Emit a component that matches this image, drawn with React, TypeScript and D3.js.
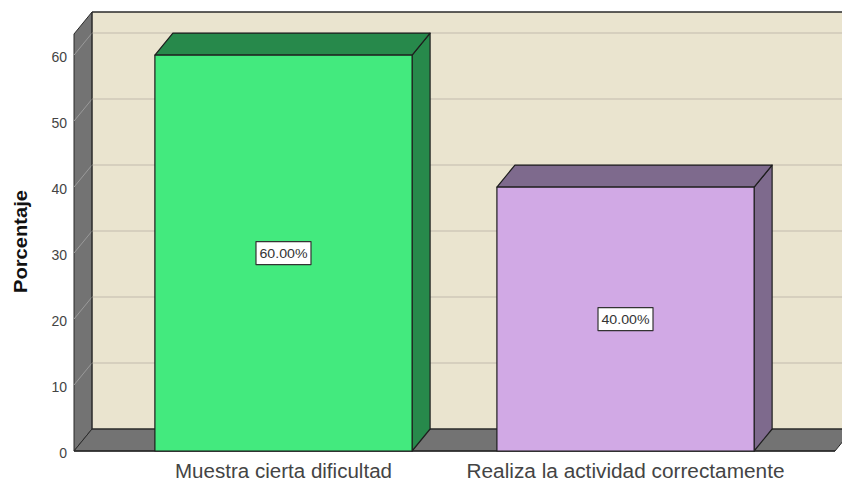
import React from "react";
import * as d3 from "d3";

const categories = ["Muestra cierta dificultad", "Realiza la actividad correctamente"];
const percentages = [60, 40];
const valueLabels = ["60.00%", "40.00%"];
const yTicks = [0, 10, 20, 30, 40, 50, 60];
const frontColors = ["#43EA7E", "#D1A9E5"];
const sideColors = ["#27894B", "#7E6A8D"];

const W = 842;
const H = 482;
const DX = 18;
const DY = 22;
const x0 = 74;
const x1 = 835;
const yZero = 451;

export default function App() {
  const x = d3
    .scaleBand<string>()
    .domain(categories)
    .range([x0, x1])
    .paddingInner(0.248)
    .paddingOuter(0.2365);
  const y = d3.scaleLinear().domain([0, 63.2]).range([yZero, yZero - 417]);
  const yTop = y(63.2);
  const pts = (a: number[][]) => a.map((p) => p.join(",")).join(" ");
  const catWidths = [217, 318];

  return (
    <div style={{ position: "fixed", left: 0, top: 0, width: W, height: H, background: "#fff" }}>
      <svg width={W} height={H} style={{ display: "block" }} fontFamily="Arial, 'Liberation Sans', sans-serif">
        {/* back wall */}
        <rect x={x0 + DX} y={yTop - DY} width={W} height={yZero - yTop} fill="#EAE4CF" />
        {/* left wall */}
        <polygon
          points={pts([[x0, yTop], [x0 + DX, yTop - DY], [x0 + DX, yZero - DY], [x0, yZero]])}
          fill="#737373"
          stroke="#2a2a2a"
          strokeWidth={1}
        />
        {/* floor */}
        <polygon
          points={pts([[x0, yZero], [x0 + DX, yZero - DY], [x1 + DX, yZero - DY], [x1, yZero]])}
          fill="#737373"
          stroke="#2a2a2a"
          strokeWidth={1}
        />
        {/* grid lines */}
        {yTicks.filter((t) => t > 0).map((t) => (
          <g key={t}>
            <line x1={x0 + DX} x2={W} y1={y(t) - DY} y2={y(t) - DY} stroke="#CFC9B8" strokeWidth={1.5} />
            <line x1={x0} x2={x0 + DX} y1={y(t)} y2={y(t) - DY} stroke="#9a9a9a" strokeWidth={1} />
          </g>
        ))}
        {/* back wall borders */}
        <line x1={x0 + DX} x2={W} y1={yTop - DY} y2={yTop - DY} stroke="#2a2a2a" strokeWidth={1.5} />
        <line x1={x0 + DX} x2={x0 + DX} y1={yTop - DY} y2={yZero - DY} stroke="#2a2a2a" strokeWidth={1} />
        <line x1={x0 + DX} x2={W} y1={yZero - DY} y2={yZero - DY} stroke="#2a2a2a" strokeWidth={1} />
        <line x1={x0} x2={x1} y1={yZero} y2={yZero} stroke="#2a2a2a" strokeWidth={1.5} />

        {/* y tick labels */}
        {yTicks.map((t) => (
          <text key={t} x={67} y={y(t) + 2} dy="0.35em" textAnchor="end" fontSize={14} fill="#444">
            {t}
          </text>
        ))}
        <text
          transform={`translate(26.5,${241.5}) rotate(-90)`}
          textAnchor="middle"
          fontSize={19}
          fontWeight="bold"
          fill="#111"
          textLength={103}
          lengthAdjust="spacingAndGlyphs"
        >
          Porcentaje
        </text>

        {/* bars */}
        {categories.map((c, i) => {
          const bx0 = x(c)!;
          const bx1 = bx0 + x.bandwidth();
          const by = y(percentages[i]);
          const cx = (bx0 + bx1) / 2;
          const cy = y(percentages[i] / 2);
          return (
            <g key={c} stroke="#1e1e1e" strokeWidth={1.2} strokeLinejoin="round">
              <polygon
                points={pts([[bx1, by], [bx1 + DX, by - DY], [bx1 + DX, yZero - DY], [bx1, yZero]])}
                fill={sideColors[i]}
              />
              <polygon
                points={pts([[bx0, by], [bx0 + DX, by - DY], [bx1 + DX, by - DY], [bx1, by]])}
                fill={sideColors[i]}
              />
              <rect x={bx0} y={by} width={bx1 - bx0} height={yZero - by} fill={frontColors[i]} />
              <rect x={cx - 27.5} y={cy - 11.5} width={55} height={23} fill="#fff" stroke="#333" strokeWidth={1.2} />
              <text
                x={cx}
                y={cy}
                dy="0.36em"
                textAnchor="middle"
                fontSize={13.5}
                fill="#333"
                stroke="none"
                textLength={48}
                lengthAdjust="spacingAndGlyphs"
              >
                {valueLabels[i]}
              </text>
            </g>
          );
        })}

        {/* category labels */}
        {categories.map((c, i) => (
          <text
            key={c}
            x={x(c)! + x.bandwidth() / 2}
            y={478}
            textAnchor="middle"
            fontSize={20}
            fill="#444"
            textLength={catWidths[i]}
            lengthAdjust="spacingAndGlyphs"
          >
            {c}
          </text>
        ))}
      </svg>
    </div>
  );
}
